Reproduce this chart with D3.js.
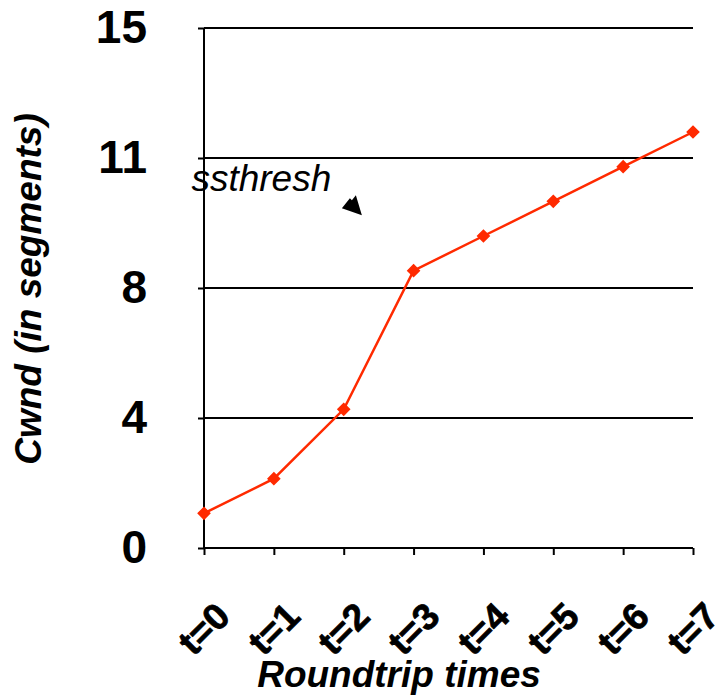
<!DOCTYPE html>
<html>
<head>
<meta charset="utf-8">
<script src="https://cdn.jsdelivr.net/npm/d3@7"></script>
<style>
  html, body { margin: 0; padding: 0; background: #fff; }
  svg { display: block; }
  text { font-family: "Liberation Sans", Arial, Helvetica, sans-serif; }
</style>
</head>
<body>
<svg id="chart" width="718" height="695"></svg>
<script>
// Congestion window growth per round trip
const categories = ["t=0", "t=1", "t=2", "t=3", "t=4", "t=5", "t=6", "t=7"];
const cwnd = [1, 2, 4, 8, 9, 10, 11, 12];
const yTickValues = [0, 3.75, 7.5, 11.25, 15];
const yTickLabels = ["0", "4", "8", "11", "15"];
const yMax = 15;

const svg = d3.select("#chart");
const plot = { left: 204, right: 693, top: 28, bottom: 548 };

const x = d3.scalePoint()
  .domain(categories)
  .range([plot.left, plot.right]);

const y = d3.scaleLinear()
  .domain([0, yMax])
  .range([plot.bottom, plot.top]);

// horizontal gridlines
svg.append("g")
  .selectAll("line")
  .data(yTickValues.slice(1))
  .join("line")
  .attr("x1", plot.left)
  .attr("x2", plot.right)
  .attr("y1", d => y(d))
  .attr("y2", d => y(d))
  .attr("stroke", "#000")
  .attr("stroke-width", 2);

// value axis
const yAxis = d3.axisLeft(y)
  .tickValues(yTickValues)
  .tickFormat((d, i) => yTickLabels[i])
  .tickSize(6)
  .tickPadding(51);

const gy = svg.append("g")
  .attr("transform", `translate(${plot.left},0)`)
  .call(yAxis);
gy.select(".domain").remove();
gy.append("line")
  .attr("x1", 0).attr("x2", 0)
  .attr("y1", plot.top).attr("y2", plot.bottom)
  .attr("stroke", "#000").attr("stroke-width", 2);
gy.selectAll(".tick line").attr("stroke", "#000").attr("stroke-width", 2);
gy.selectAll(".tick text")
  .attr("fill", "#000")
  .style("font-size", "46px")
  .style("font-weight", "bold")
  .style("font-family", "'Liberation Sans', Arial, sans-serif");

// category axis
const xAxis = d3.axisBottom(x)
  .tickSize(7)
  .tickFormat(() => "");

const gx = svg.append("g")
  .attr("transform", `translate(0,${plot.bottom})`)
  .call(xAxis);
gx.select(".domain").remove();
gx.append("line")
  .attr("x1", plot.left).attr("x2", plot.right)
  .attr("y1", 0).attr("y2", 0)
  .attr("stroke", "#000").attr("stroke-width", 2);
gx.selectAll(".tick line").attr("stroke", "#000").attr("stroke-width", 2);

// rotated category labels
svg.append("g")
  .selectAll("text")
  .data(categories)
  .join("text")
  .attr("transform", d => `translate(${x(d)},${plot.bottom + 81}) rotate(-45)`)
  .attr("text-anchor", "middle")
  .attr("dominant-baseline", "central")
  .style("font-size", "37px")
  .style("font-weight", "bold")
  .style("stroke", "#000")
  .style("stroke-width", 0.8)
  .attr("fill", "#000")
  .text(d => d);

// axis titles
svg.append("text")
  .attr("x", 399)
  .attr("y", 687)
  .attr("text-anchor", "middle")
  .style("font-size", "37px")
  .style("font-weight", "bold")
  .style("font-style", "italic")
  .text("Roundtrip times");

svg.append("text")
  .attr("transform", "translate(41,289) rotate(-90)")
  .attr("text-anchor", "middle")
  .style("font-size", "37px")
  .style("font-weight", "bold")
  .style("font-style", "italic")
  .text("Cwnd (in segments)");

// cwnd series
const line = d3.line()
  .x((d, i) => x(categories[i]))
  .y(d => y(d));

svg.append("path")
  .datum(cwnd)
  .attr("d", line)
  .attr("fill", "none")
  .attr("stroke", "#ff2a00")
  .attr("stroke-width", 2.5);

svg.append("g")
  .selectAll("path")
  .data(cwnd)
  .join("path")
  .attr("transform", (d, i) => `translate(${x(categories[i])},${y(d)})`)
  .attr("d", d3.symbol(d3.symbolDiamond2, 85))
  .attr("fill", "#ff2a00")
  .attr("stroke", "#ff2a00")
  .attr("stroke-width", 1.5);

// ssthresh annotation
const noteAt = { i: -0.18, v: 10.3 };
const arrowTip = { i: 2.26, v: 9.6 };
const step = x.step();
const nx = plot.left + noteAt.i * step;
svg.append("text")
  .attr("x", nx)
  .attr("y", y(noteAt.v))
  .style("font-size", "37px")
  .style("font-style", "italic")
  .attr("fill", "#000")
  .text("ssthresh");

const tx = plot.left + arrowTip.i * step;
const ty = y(arrowTip.v);
svg.append("path")
  .attr("d", `M${tx},${ty} L${tx - 20},${ty - 7} L${tx - 12},${ty - 17} L${tx - 10},${ty - 15} L${tx - 6},${ty - 20} Z`)
  .attr("fill", "#000");
</script>
</body>
</html>
